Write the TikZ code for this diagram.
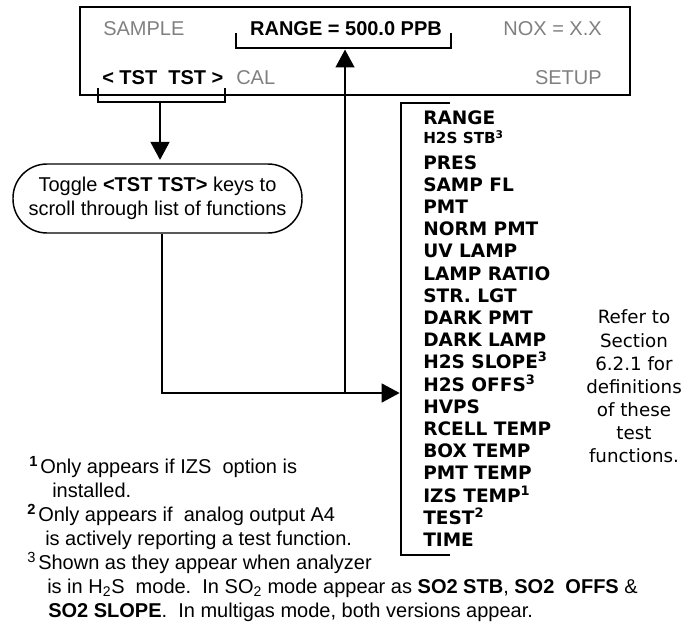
\documentclass[tikz,border=0pt]{standalone}
\usepackage{fontspec}
\setmainfont{Liberation Sans}
\newfontfamily\verd{DejaVu Sans}
\usetikzlibrary{arrows.meta}
\definecolor{lcdgray}{HTML}{808080}

\begin{document}
\begin{tikzpicture}[x=0.75pt,y=-0.75pt,
  txt/.style={inner sep=0pt, anchor=base west, font=\fontsize{15pt}{18pt}\selectfont},
  lcd/.style={txt, text=lcdgray},
  lcdkey/.style={txt, font=\fontsize{15pt}{18pt}\selectfont\bfseries},
  item/.style={inner sep=0pt, anchor=base west, font=\verd\bfseries\fontsize{13.9pt}{16pt}\selectfont},
  smallitem/.style={item, font=\verd\bfseries\fontsize{11.4pt}{13pt}\selectfont},
  refer/.style={inner sep=0pt, anchor=base, font=\verd\fontsize{13.7pt}{16pt}\selectfont},
  note/.style={txt},
  bracketline/.style={line width=1.9pt},
  flow/.style={line width=1.9pt, -{Triangle[length=13.5pt,width=14pt]}},
  plainflow/.style={line width=1.9pt},
]
\path[use as bounding box] (0,0) rectangle (681,623);

% display panel
\node[draw, line width=1.1pt, inner sep=0pt, minimum width=412.5pt, minimum height=66pt]
  (disp) at (355,51) {};
\node[lcd] (sample) at (103,36) {SAMPLE};
\node[lcdkey, anchor=base] (range) at (346,36) {RANGE = 500.0 PPB};
\node[lcd, anchor=base east] (nox) at (602,36) {NOX = X.X};
\node[lcdkey] (tst) at (102,85) {< TST\ \ TST >};
\node[lcd] (cal) at (236,85) {CAL};
\node[lcd, anchor=base east] (setup) at (602,85) {SETUP};

% brackets under the RANGE field and the TST keys
\draw[bracketline] (236,33) -- (236,48) -- (451,48) -- (451,33);
\draw[bracketline] (98,88) -- (98,102) -- (225,102) -- (225,88);
\coordinate (tstmid) at (160,102);
\coordinate (rangemid) at (345,49.5);

% toggle instruction
\node[draw, line width=1.1pt, rounded corners=25.5pt, minimum width=216.75pt,
      minimum height=51.75pt, inner sep=0pt, align=center,
      font=\fontsize{15pt}{18pt}\selectfont] (toggle) at (157.5,198.5)
  {Toggle \textbf{<TST TST>} keys to\\scroll through list of functions};

\draw[flow, shorten >=2.5pt] (tstmid) -- (tstmid |- toggle.north);

% list of test functions
\coordinate (listtop) at (401,103);
\coordinate (listbot) at (401,555);
\draw[bracketline] (450,103) -- (listtop) -- (listbot) -- (450,555);

\coordinate (turn) at (162,393);
\coordinate (upfoot) at (345,393);
\draw[plainflow] (toggle.south -| turn) -- (turn) -- (upfoot);
\draw[flow, shorten >=1pt] (upfoot) -- (upfoot -| listtop);
\draw[flow] (upfoot) -- (rangemid);

\node[item] (it0) at (423,124.7) {RANGE};
\node[smallitem] (it1) at (423,144) {H2S STB\textsuperscript{3}};
\foreach \t [count=\i from 2] in {PRES,SAMP FL,PMT,NORM PMT,UV LAMP,LAMP RATIO,
    STR. LGT,DARK PMT,DARK LAMP,H2S SLOPE\textsuperscript{3},H2S OFFS\textsuperscript{3},
    HVPS,RCELL TEMP,BOX TEMP,PMT TEMP,IZS TEMP\textsuperscript{1},TEST\textsuperscript{2},TIME}
  \node[item] (it\i) at (423,124.7+22.2*\i) {\t};

\foreach \t [count=\i from 0] in {Refer to,Section,6.2.1 for,definitions,of these,test,functions.}
  \node[refer] (ref\i) at (634,324+23*\i) {\t};

% footnotes
\node[note, font=\fontsize{11pt}{12pt}\selectfont\bfseries] (fn1m) at (29,466) {1};
\node[note] (fn1a) at (40,473) {Only appears if IZS\ \ option is};
\node[note] (fn1b) at (52,497) {installed.};
\node[note, font=\fontsize{11pt}{12pt}\selectfont\bfseries] (fn2m) at (27,514) {2};
\node[note] (fn2a) at (38,521) {Only appears if\ \ analog output A4};
\node[note] (fn2b) at (45,545) {is actively reporting a test function.};
\node[note, font=\fontsize{11pt}{12pt}\selectfont] (fn3m) at (27,562) {3};
\node[note] (fn3a) at (38,569) {Shown as they appear when analyzer};
\node[note] (fn3b) at (47,593) {is in H\textsubscript{2}S\ \ mode.\ \ In SO\textsubscript{2} mode appear as \textbf{SO2 STB}, \textbf{SO2\ \ OFFS} \&};
\node[note] (fn3c) at (48,617) {\textbf{SO2 SLOPE}.\ \ In multigas mode, both versions appear.};
\end{tikzpicture}
\end{document}
